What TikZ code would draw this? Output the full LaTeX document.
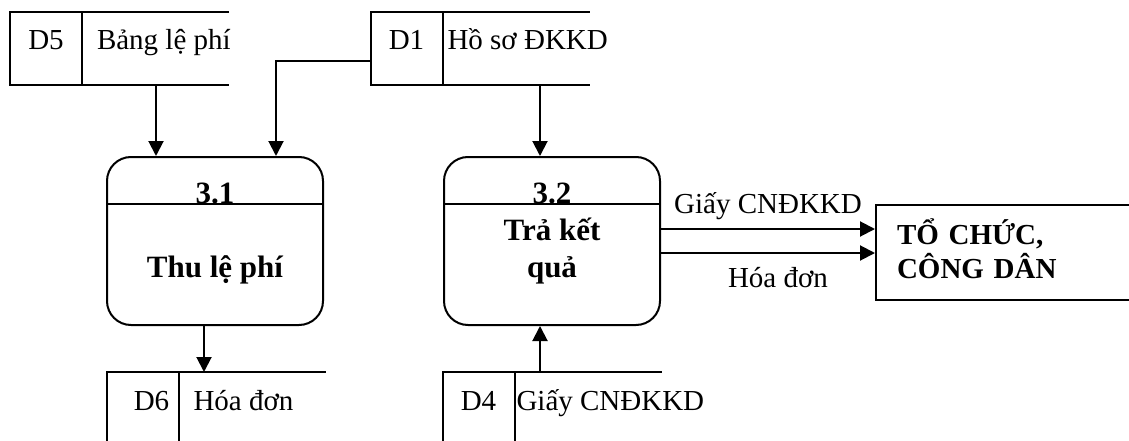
\documentclass[tikz,border=0pt]{standalone}
\usepackage{fontspec}
\setmainfont{Liberation Serif}
\usetikzlibrary{positioning, arrows.meta, calc}

\begin{document}
\begin{tikzpicture}[x=1pt, y=-1pt, line width=2pt,
    font=\fontsize{29}{34}\selectfont,
    store/.style={minimum width=217pt, minimum height=71pt, inner sep=0pt},
    proc/.style={draw, rounded corners=24pt, minimum width=216pt, minimum height=168pt},
    bold/.style={font=\fontsize{31}{37}\selectfont\bfseries},
    ent/.style={draw, text width=217pt, inner xsep=21pt, minimum height=95pt, align=left,
        font=\fontsize{29}{34}\selectfont\bfseries},
    flow/.style={-{Triangle[length=15pt, width=15pt]}}]
\useasboundingbox (0,0) rectangle (1129,441);

% data stores
\node[store] (d5) at (119.5,48.5) {};
\node[store] (d1) at (480,48.5) {};
\node[store] (d6) at (216,408.5) {};
\node[store] (d4) at (552,408.5) {};
\foreach \s in {d5,d1,d6,d4} {
  \draw (\s.north east) -| (\s.south west) -- (\s.south east);
  \draw ([xshift=72pt]\s.north west) -- ([xshift=72pt]\s.south west);
}
\foreach \s/\id/\name/\dx/\dn in {d5/D5/Bảng lệ phí/36/14, d1/D1/Hồ sơ ĐKKD/36/4,
    d6/D6/Hóa đơn/45/14, d4/D4/Giấy CNĐKKD/36/1} {
  \node[anchor=base] (\s id) at ($(\s.north west)+(\dx,38)$) {\id};
  \node[anchor=base west, inner sep=0pt] (\s name) at ($(\s.north west)+(72+\dn,38)$) {\name};
}

% processes
\node[proc] (p31) at (215,241) {};
\node[proc] (p32) at (552,241) {};
\foreach \p in {p31,p32}
  \draw ([yshift=-48pt]\p.north west) -- ([yshift=-48pt]\p.north east);
\node[bold, anchor=base] (n31) at ($(p31.north)+(0,47)$) {3.1};
\node[bold, anchor=base] (t31) at ($(p31.north)+(0,121)$) {Thu lệ phí};
\node[bold, anchor=base] (n32) at ($(p32.north)+(0,47)$) {3.2};
\node[bold, anchor=base, align=center] (t32) at ($(p32.north)+(0,121)$) {Trả kết\\quả};

% external entity
\node[ent] (ent) at (1005.5,252.5) {TỔ CHỨC,\\CÔNG DÂN\vspace{8pt}};

% flows
\coordinate (c5) at ([xshift=36.5pt]d5.south);
\draw[flow] (c5) -- (c5 |- p31.north);
\coordinate (c1) at ([yshift=-12.5pt]d1.west);
\coordinate (c31) at ([xshift=61pt]p31.north);
\draw[flow] (c1) -| (c31);
\coordinate (c1b) at ([xshift=60pt]d1.south);
\draw[flow] (c1b) -- (c1b |- p32.north);
\coordinate (c31b) at ([xshift=-11pt]p31.south);
\draw[flow] (c31b) -- (c31b |- d6.north);
\coordinate (c4) at ([xshift=-12pt]p32.south);
\draw[flow] (c4 |- d4.north) -- (c4);
\coordinate (o1) at ([yshift=12pt]p32.east);
\draw[flow] (o1) -- (o1 -| ent.west)
  node[midway, anchor=base, yshift=16pt] (l1) {Giấy CNĐKKD};
\coordinate (o2) at ([yshift=-12pt]p32.east);
\draw[flow] (o2) -- (o2 -| ent.west)
  node[midway, anchor=base, yshift=-34pt, xshift=10pt] (l2) {Hóa đơn};
\end{tikzpicture}
\end{document}
